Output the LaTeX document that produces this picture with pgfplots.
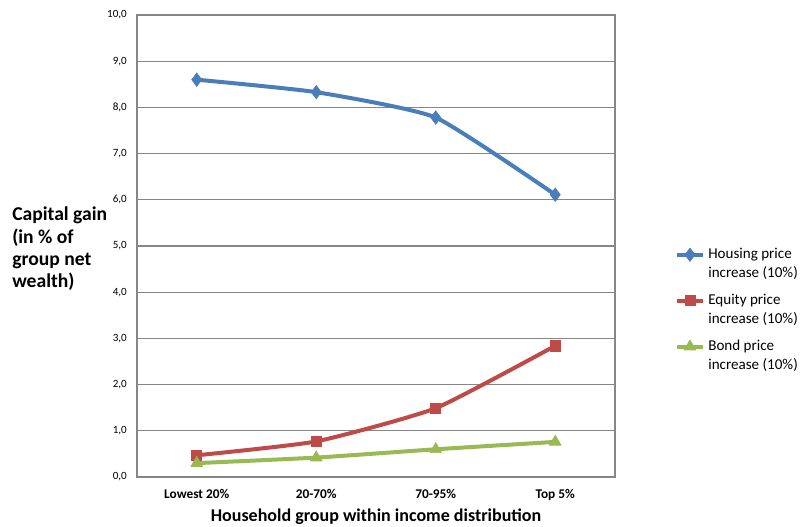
\documentclass[border=0pt]{standalone}
\usepackage{pgfplots}
\pgfplotsset{compat=1.18}
\usepackage{fontspec}
\setmainfont{Carlito}
\definecolor{hblue}{HTML}{4A7EBB}
\definecolor{ered}{HTML}{BE4B48}
\definecolor{bgreen}{HTML}{98B954}
\definecolor{gridgray}{HTML}{868686}
\begin{document}
\begin{tikzpicture}
\path[use as bounding box] (0,0) rectangle (600pt,395.25pt);
\begin{axis}[
  at={(102.75pt,37.5pt)}, anchor=south west,
  scale only axis, width=358.5pt, height=346.5pt,
  xmin=-0.5, xmax=3.5, ymin=0, ymax=10,
  xtick={0,1,2,3},
  xticklabels={Lowest 20\%, 20-70\%, 70-95\%, Top 5\%},
  ytick={0,1,...,10},
  major tick length=0pt,
  ymajorgrids,
  major grid style={color=gridgray, line width=0.9pt},
  axis line style={color=gridgray, line width=1.7pt},
  /pgf/number format/.cd, fixed, fixed zerofill, precision=1, use comma, assume math mode=true,
  /pgfplots/.cd,
  yticklabel style={font=\fontsize{8.3}{10}\selectfont, anchor=east, inner sep=0pt, xshift=-7.5pt},
  xticklabel style={font=\fontsize{10}{12}\selectfont\bfseries, anchor=base, inner sep=0pt, yshift=-16.5pt},
  xlabel={Household group within income distribution},
  xlabel style={font=\fontsize{13.5}{16}\selectfont\bfseries, at={(rel axis cs:0.5,0)}, anchor=base, inner sep=0pt, yshift=-33.75pt},
  ylabel={Capital gain\\(in \% of\\group net\\wealth)},
  ylabel style={rotate=-90, font=\fontsize{14.7}{16.75}\selectfont\bfseries, align=left, at={(rel axis cs:0,0.4935)}, anchor=west, inner sep=0pt, xshift=-93.75pt},
  legend cell align=left,
  legend style={draw=none, fill=none, inner sep=0pt, outer sep=0pt,
    at={(rel axis cs:1,0.507)}, anchor=north west, xshift=45pt,
    font=\fontsize{11.3}{14.25}\selectfont,
    cells={anchor=base west, inner sep=0pt},
    row sep=19pt, column sep=0.5pt},
  legend image code/.code={
    \draw[mark repeat=2, mark phase=2] plot coordinates {(0pt,3pt) (9.75pt,3pt) (19.5pt,3pt)};
  },
  every axis plot/.append style={line width=3pt, smooth, tension=0.3},
]
\addplot[color=hblue, mark=diamond*, mark size=5pt, mark options={solid, line width=0.5pt}]
  coordinates {(0,8.60) (1,8.33) (2,7.78) (3,6.11)};
\addlegendentry{\begin{tabular}[t]{@{}l@{}}Housing price\\increase (10\%)\end{tabular}}
\addplot[color=ered, mark=square*, mark size=3.8pt, mark options={solid, line width=0.5pt}]
  coordinates {(0,0.47) (1,0.77) (2,1.49) (3,2.84)};
\addlegendentry{\begin{tabular}[t]{@{}l@{}}Equity price\\increase (10\%)\end{tabular}}
\addplot[color=bgreen, mark=triangle*, mark size=5pt, mark options={solid, line width=0.5pt}]
  coordinates {(0,0.30) (1,0.42) (2,0.60) (3,0.76)};
\addlegendentry{\begin{tabular}[t]{@{}l@{}}Bond price\\increase (10\%)\end{tabular}}
\end{axis}
\end{tikzpicture}
\end{document}
